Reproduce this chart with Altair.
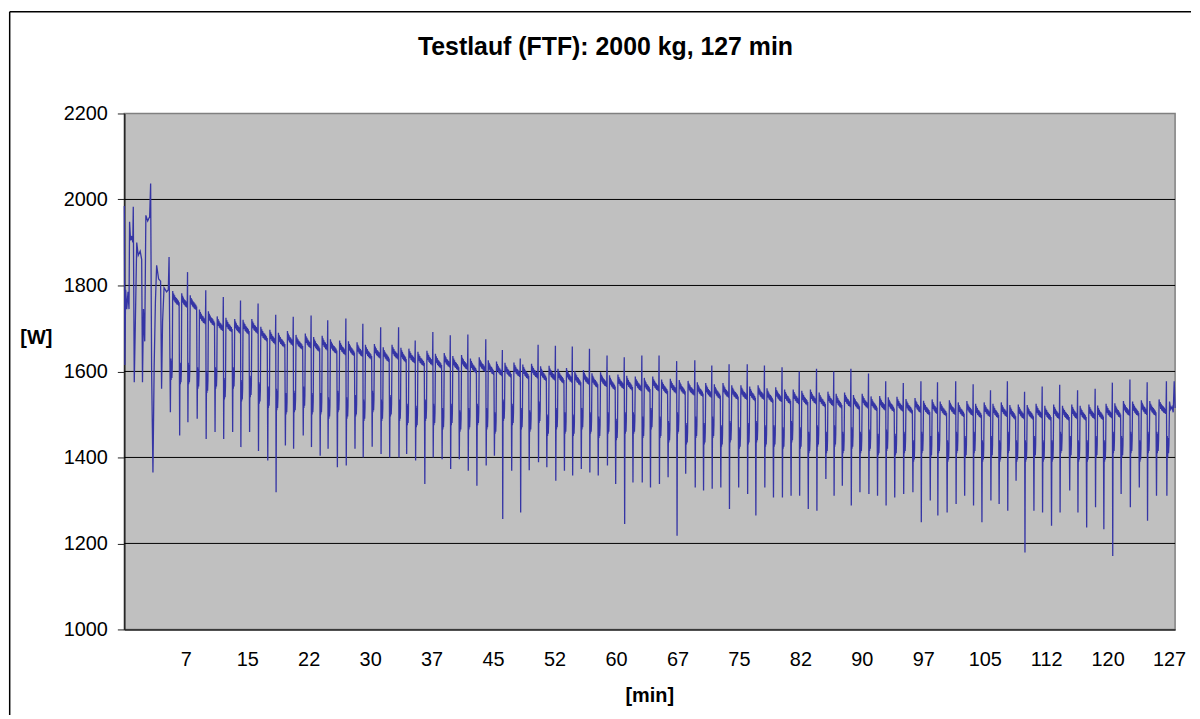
import altair as alt
import pandas as pd

TITLE = "Testlauf (FTF): 2000 kg, 127 min"
X_TITLE = "[min]"
Y_TITLE = "[W]"
FONT = "Liberation Sans"

# --- opening minutes: vertices (minutes, W) ---
start_t = [0.00, 0.07, 0.16, 0.30, 0.45, 0.57, 0.64, 0.76, 0.91, 1.03, 1.09, 1.21, 1.33,
           1.51, 1.69, 1.93, 2.11, 2.21, 2.33, 2.48, 2.62, 2.84, 3.08, 3.20, 3.32, 3.48,
           3.63, 3.78, 3.93, 4.17, 4.41, 4.53, 4.65, 4.83, 5.14, 5.35, 5.44]
start_w = [1985, 1615, 1790, 1745, 1785, 1745, 1948, 1905, 1915, 1900, 1983, 1575, 1700,
           1900, 1870, 1880, 1860, 1575, 1745, 1670, 1963, 1950, 1960, 2037, 1600, 1365,
           1614, 1762, 1847, 1815, 1810, 1560, 1715, 1795, 1785, 1790, 1866]

# --- one entry per drop (cycle) ---
low_t = [5.60, 6.73, 7.73, 8.86, 9.95, 11.03, 12.08, 13.17, 14.17, 15.23,
         16.31, 17.44, 18.45, 19.58, 20.58, 21.75, 22.75, 23.81, 24.77, 25.90,
         26.98, 28.04, 29.04, 30.13, 31.21, 32.26, 33.39, 34.32, 35.41, 36.53,
         37.55, 38.63, 39.67, 40.72, 41.81, 42.86, 43.99, 44.99, 46.00, 47.09,
         48.18, 49.22, 50.35, 51.36, 52.45, 53.50, 54.50, 55.55, 56.59, 57.61,
         58.73, 59.73, 60.82, 61.83, 62.96, 63.96, 65.05, 66.10, 67.19, 68.24,
         69.40, 70.41, 71.46, 72.51, 73.56, 74.68, 75.77, 76.77, 77.86, 78.91,
         80.00, 81.05, 82.09, 83.14, 84.19, 85.28, 86.28, 87.28, 88.37, 89.42,
         90.51, 91.56, 92.60, 93.65, 94.74, 95.86, 96.88, 97.97, 98.89, 100.02,
         101.11, 102.15, 103.23, 104.25, 105.34, 106.34, 107.39, 108.40, 109.48, 110.57,
         111.62, 112.71, 113.75, 114.92, 115.92, 116.98, 118.06, 119.07, 120.15, 121.17,
         122.29, 123.38, 124.38, 125.47, 126.73]
low_w = [1505, 1451, 1482, 1490, 1443, 1459, 1443, 1459, 1424, 1459,
         1415, 1393, 1319, 1428, 1420, 1451, 1424, 1404, 1420, 1377,
         1381, 1420, 1400, 1425, 1408, 1400, 1400, 1408, 1393, 1338,
         1400, 1396, 1373, 1396, 1369, 1334, 1381, 1404, 1257, 1369,
         1272, 1370, 1389, 1377, 1346, 1369, 1358, 1373, 1365, 1358,
         1381, 1338, 1245, 1342, 1342, 1330, 1338, 1354, 1218, 1362,
         1330, 1323, 1327, 1330, 1280, 1330, 1315, 1265, 1330, 1307,
         1307, 1311, 1311, 1280, 1276, 1350, 1311, 1334, 1288, 1319,
         1315, 1311, 1288, 1307, 1315, 1319, 1249, 1300, 1265, 1272,
         1292, 1311, 1288, 1249, 1300, 1292, 1276, 1346, 1179, 1276,
         1272, 1241, 1272, 1323, 1272, 1237, 1284, 1233, 1171, 1315,
         1284, 1330, 1253, 1311, 1311]
# peak just before the drop (0 = no peak)
spike_w = [1866, 0, 1831, 0, 1789, 0, 1773, 0, 1765, 0,
           1758, 0, 1732, 0, 1727, 0, 1730, 0, 1719, 0,
           1723, 0, 1711, 0, 1703, 0, 1703, 0, 1672, 0,
           1692, 0, 1684, 0, 1686, 0, 1675, 0, 1650, 0,
           1630, 0, 1662, 0, 1660, 0, 1658, 0, 1653, 0,
           1637, 0, 1633, 0, 1637, 0, 1637, 0, 1624, 0,
           1626, 0, 1614, 0, 1617, 0, 1617, 0, 1614, 0,
           1610, 0, 1600, 0, 1606, 0, 1600, 0, 1606, 0,
           1595, 0, 1577, 0, 1573, 0, 1577, 0, 1575, 0,
           1577, 0, 1570, 0, 1556, 0, 1577, 0, 1553, 0,
           1565, 0, 1569, 0, 1556, 0, 1560, 0, 1574, 0,
           1581, 0, 1575, 0, 1577]
# plateau level of the cycle that ends with this drop
plat_w = [1790, 1765, 1760, 1755, 1722, 1718, 1706, 1703, 1700, 1698,
          1700, 1682, 1675, 1668, 1672, 1663, 1666, 1658, 1661, 1653,
          1650, 1648, 1646, 1640, 1642, 1634, 1640, 1633, 1631, 1624,
          1626, 1619, 1621, 1614, 1616, 1608, 1611, 1604, 1601, 1598,
          1599, 1594, 1596, 1590, 1591, 1584, 1586, 1579, 1581, 1574,
          1576, 1569, 1571, 1568, 1566, 1563, 1566, 1559, 1561, 1558,
          1556, 1553, 1551, 1548, 1551, 1546, 1546, 1543, 1546, 1539,
          1541, 1536, 1536, 1533, 1536, 1529, 1531, 1526, 1529, 1523,
          1526, 1520, 1521, 1518, 1519, 1514, 1516, 1510, 1513, 1508,
          1511, 1506, 1509, 1503, 1506, 1503, 1506, 1500, 1501, 1500,
          1503, 1498, 1501, 1498, 1501, 1498, 1501, 1499, 1503, 1504,
          1509, 1508, 1511, 1509, 1513]
# short intermediate level right after the drop
mid_w = [1600, 1610, 1600, 1600, 1590, 1580, 1590, 1565, 1590, 1560,
         1570, 1555, 1545, 1540, 1530, 1535, 1545, 1530, 1530, 1520,
         1535, 1520, 1525, 1515, 1535, 1515, 1525, 1515, 1505, 1500,
         1515, 1505, 1495, 1505, 1490, 1495, 1505, 1495, 1485, 1515,
         1505, 1495, 1490, 1510, 1480, 1495, 1485, 1480, 1495, 1485,
         1475, 1485, 1470, 1485, 1485, 1475, 1495, 1475, 1465, 1485,
         1460, 1475, 1460, 1475, 1455, 1465, 1450, 1460, 1465, 1455,
         1455, 1450, 1465, 1450, 1440, 1455, 1440, 1455, 1440, 1450,
         1440, 1445, 1435, 1445, 1435, 1440, 1420, 1440, 1430, 1440,
         1420, 1440, 1430, 1440, 1420, 1430, 1420, 1440, 1420, 1420,
         1430, 1420, 1420, 1440, 1430, 1420, 1420, 1430, 1420, 1440,
         1430, 1440, 1420, 1440, 1440]

# --- last partial cycle ---
end_t = [126.78, 126.83, 126.88, 126.93, 126.98, 127.05, 127.20, 127.35, 127.50, 127.62, 127.73]
end_w = [1450, 1400, 1445, 1410, 1430, 1530, 1512, 1518, 1505, 1577, 1515]

# axis ticks and grid
x_ticks = [7.47, 14.94, 22.41, 29.88, 37.35, 44.82, 52.29, 59.76, 67.24, 74.71,
           82.18, 89.65, 97.12, 104.59, 112.06, 119.53, 127.0]
y_ticks = [1000, 1200, 1400, 1600, 1800, 2000, 2200]
grid_vals = [1200, 1400, 1600, 1800, 2000]
X_MAX = 127.73

# ---- assemble the polyline from the read values ----
# shape of one cycle: (fraction of cycle, offset from mid level / plateau level)
MID_SHAPE = [(0.04, 20), (0.08, -30), (0.12, 15), (0.16, -25), (0.20, 0)]
PLAT_SHAPE = [(0.25, 22), (0.30, 6), (0.35, 16), (0.40, 0), (0.45, 12), (0.50, -4),
              (0.55, 8), (0.60, -6), (0.65, 6), (0.70, -9), (0.75, 3), (0.80, -10),
              (0.85, 0), (0.89, -12)]

ts, ws = list(start_t), list(start_w)
ts.append(low_t[0]); ws.append(low_w[0])
for k in range(1, len(low_t)):
    t0, t1 = low_t[k - 1], low_t[k]
    d = t1 - t0
    M, P, S, L = mid_w[k], plat_w[k], spike_w[k], low_w[k]
    seq = [(f, M + o) for f, o in MID_SHAPE] + [(f, P + o) for f, o in PLAT_SHAPE]
    if S:
        seq += [(0.92, P - 6), (0.955, S)]
    else:
        seq += [(0.94, P - 4)]
    for f, w in seq:
        ts.append(round(t0 + f * d, 4)); ws.append(w)
    ts.append(t1); ws.append(L)
ts += end_t; ws += end_w

df = pd.DataFrame({"t": ts, "w": ws, "i": range(len(ts))})

x_enc = alt.X("t:Q",
              scale=alt.Scale(domain=[0, X_MAX], nice=False, zero=False),
              axis=alt.Axis(values=x_ticks, labelExpr="format(datum.value, '.0f')",
                            ticks=False, grid=False, domainColor="#222222", domainWidth=1.5,
                            labelFont=FONT, labelFontSize=20, labelColor="black",
                            labelPadding=20, labelFlush=False, labelOverlap=False,
                            title=X_TITLE, titleFont=FONT, titleFontSize=20,
                            titleFontWeight="bold", titleColor="black",
                            titleX=528, titleY=67, titleBaseline="middle",
                            titleAlign="center"))
y_scale = alt.Scale(domain=[1000, 2200], nice=False, zero=False)
y_enc = alt.Y("w:Q", scale=y_scale,
              axis=alt.Axis(values=y_ticks, format="d", grid=False, tickSize=7,
                            tickColor="#222222",
                            domainColor="#222222", domainWidth=1.5,
                            labelFont=FONT, labelFontSize=20, labelColor="black",
                            labelPadding=10,
                            title=Y_TITLE, titleFont=FONT, titleFontSize=20,
                            titleFontWeight="bold", titleColor="black", titleAngle=0,
                            titleX=-89, titleY=225, titleAlign="center",
                            titleBaseline="middle"))

grid = alt.Chart(pd.DataFrame({"v": grid_vals})).mark_rule(
    color="black", strokeWidth=1).encode(y=alt.Y("v:Q", scale=y_scale))

line = alt.Chart(df).mark_line(color="#3535A5", strokeWidth=1.3).encode(
    x=x_enc, y=y_enc, order=alt.Order("i:Q"))

one = pd.DataFrame({"a": [0]})
frame_v = alt.Chart(one).mark_rule(color="black", strokeWidth=1.5).encode(
    x=alt.value(-115.3), y=alt.value(-102.3), y2=alt.value(605))
frame_h = alt.Chart(one).mark_rule(color="black", strokeWidth=1.5).encode(
    x=alt.value(-115.3), x2=alt.value(1073), y=alt.value(-102.3))

title = alt.Chart(pd.DataFrame({"txt": [TITLE]})).mark_text(
    font=FONT, fontSize=25, fontWeight="bold", color="black",
    align="center", baseline="middle").encode(
    text="txt:N", x=alt.value(484), y=alt.value(-67))

chart = alt.layer(grid, line, frame_v, frame_h, title).properties(
    width=1057, height=519, padding=0, background="white"
).configure_view(fill="#C0C0C0", stroke="#808080", strokeWidth=1.5)

chart.save("out.html", embed_options={"renderer": "svg", "actions": False})
